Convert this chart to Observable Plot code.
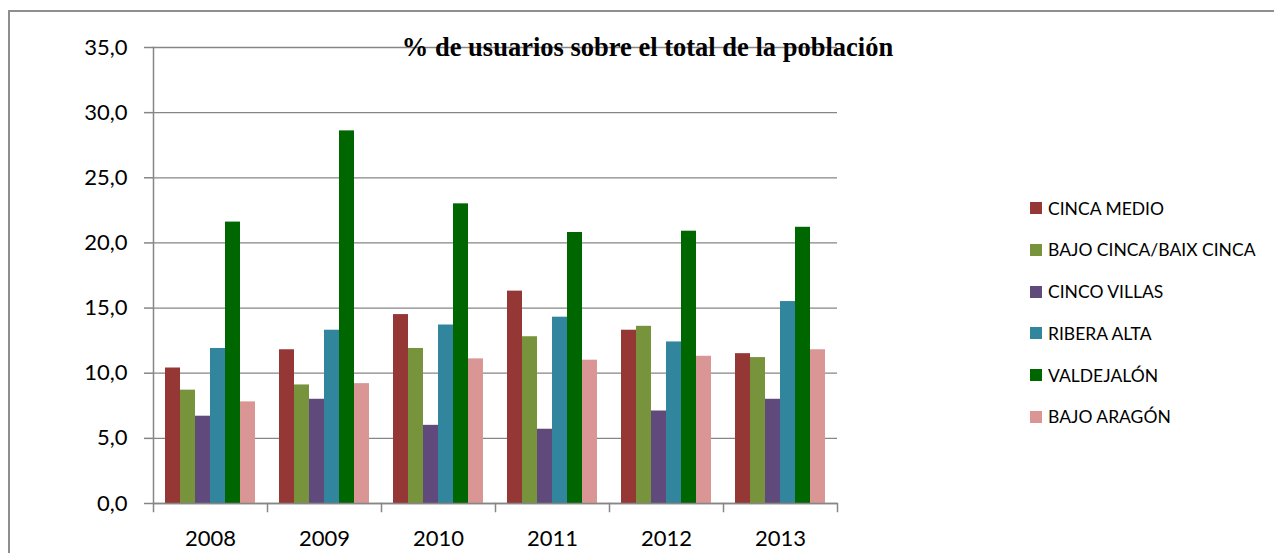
<!DOCTYPE html>
<html>
<head>
<meta charset="utf-8">
<script src="https://cdn.jsdelivr.net/npm/d3@7"></script>
<script src="https://cdn.jsdelivr.net/npm/@observablehq/plot@0.6"></script>
<style>
  body { margin: 0; background: #fff; }
  #wrap { position: relative; width: 1274px; height: 553px; overflow: hidden; background: #fff; }
  #border { position: absolute; left: 8px; top: 10px; width: 1400px; height: 700px;
            border-left: 2px solid #8e8e8e; border-top: 2px solid #8e8e8e; box-sizing: border-box; }
  #chart { position: absolute; left: 0; top: 0; }
  #title { position: absolute; top: 34px; left: 647.5px; transform: translateX(-50%);
           font: bold 26.5px "Liberation Serif", "Times New Roman", serif; white-space: nowrap; color: #000; line-height: 1; }
  #legend { position: absolute; left: 1030px; top: 0; font-family: Lato, sans-serif; font-size: 17.5px; color: #000; }
  .row { position: absolute; left: 0; display: flex; align-items: center; white-space: nowrap; height: 20px; }
  .sw { width: 12px; height: 12px; margin-right: 6px; flex: none; }
</style>
</head>
<body>
<div id="wrap">
  <div id="border"></div>
  <div id="chart"></div>
  <div id="title"></div>
  <div id="legend"></div>
</div>
<script>
const titleText = "% de usuarios sobre el total de la población";
const years = ["2008", "2009", "2010", "2011", "2012", "2013"];
const series = ["CINCA MEDIO", "BAJO CINCA/BAIX CINCA", "CINCO VILLAS", "RIBERA ALTA", "VALDEJALÓN", "BAJO ARAGÓN"];
const colors = ["#953735", "#77933C", "#604A7B", "#31859C", "#006600", "#D99694"];

const cincaMedio  = [10.4, 11.8, 14.5, 16.3, 13.3, 11.5];
const bajoCinca   = [8.7, 9.1, 11.9, 12.8, 13.6, 11.2];
const cincoVillas = [6.7, 8.0, 6.0, 5.7, 7.1, 8.0];
const riberaAlta  = [11.9, 13.3, 13.7, 14.3, 12.4, 15.5];
const valdejalon  = [21.6, 28.6, 23.0, 20.8, 20.9, 21.2];
const bajoAragon  = [7.8, 9.2, 11.1, 11.0, 11.3, 11.8];

const yTicks = [0, 5, 10, 15, 20, 25, 30, 35];

const seriesValues = [cincaMedio, bajoCinca, cincoVillas, riberaAlta, valdejalon, bajoAragon];
const data = years.flatMap((year, i) =>
  series.map((s, j) => ({year, series: s, value: seriesValues[j][i]}))
);

const fmt = d => d.toFixed(1).replace(".", ",");
const gridColor = "#868686";

const chart = Plot.plot({
  width: 1274,
  height: 553,
  marginLeft: 153,
  marginRight: 436.5,
  marginTop: 47,
  marginBottom: 50,
  style: {fontFamily: "Lato, sans-serif", color: "#000", background: "transparent"},
  fx: {domain: years, padding: 0, label: null},
  x: {domain: series, paddingInner: 0, paddingOuter: 0.75, axis: null},
  y: {domain: [0, 35], label: null},
  color: {domain: series, range: colors},
  marks: [
    Plot.gridY(yTicks, {stroke: gridColor, strokeOpacity: 1, strokeWidth: 1.3}),
    Plot.barY(data, {fx: "year", x: "series", y: "value", fill: "series"}),
    Plot.ruleY([0], {stroke: gridColor, strokeWidth: 1.5}),
    Plot.frame({anchor: "left", facetAnchor: "left", stroke: gridColor, strokeWidth: 1.5}),
    Plot.frame({anchor: "left", stroke: gridColor, strokeWidth: 1.5, insetTop: 456, insetBottom: -8}),
    Plot.frame({anchor: "right", facetAnchor: "right", stroke: gridColor, strokeWidth: 1.5, insetTop: 456, insetBottom: -8}),
    Plot.axisY(yTicks, {anchor: "left", tickFormat: fmt, tickSize: 9, tickPadding: 17, fontSize: 22, stroke: gridColor, strokeWidth: 1.5, label: null}),
    Plot.axisFx({anchor: "bottom", tickSize: 0, tickPadding: 27, fontSize: 22, label: null})
  ]
});
document.getElementById("chart").appendChild(chart);

document.getElementById("title").textContent = titleText;

const legendTop = 208;
const legendStep = 41.75;
const legend = document.getElementById("legend");
series.forEach((s, i) => {
  const row = document.createElement("div");
  row.className = "row";
  row.style.top = (legendTop + i * legendStep - 10) + "px";
  const sw = document.createElement("div");
  sw.className = "sw";
  sw.style.background = colors[i];
  const label = document.createElement("span");
  label.textContent = s;
  row.appendChild(sw);
  row.appendChild(label);
  legend.appendChild(row);
});
</script>
</body>
</html>
